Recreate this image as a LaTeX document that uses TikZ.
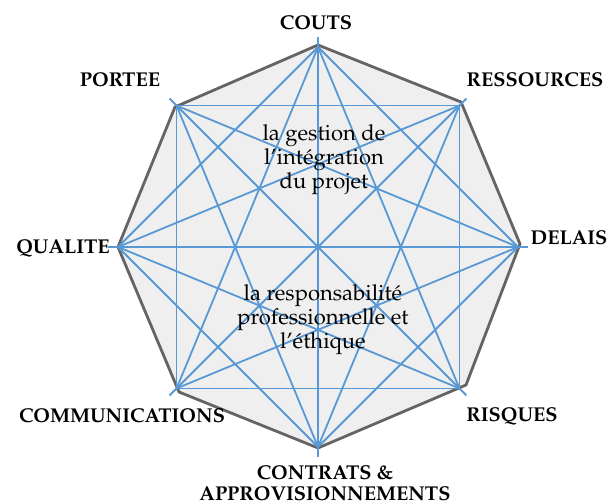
\documentclass[tikz,border=0pt]{standalone}
\usepackage[T1]{fontenc}
\usepackage{mathpazo}
\definecolor{chordblue}{RGB}{88,152,212}
\definecolor{rimgray}{RGB}{100,100,100}
\definecolor{facegray}{RGB}{239,239,239}
\tikzset{
  chord/.style={draw=chordblue, line width=1.8pt},
  rim/.style={draw=rimgray, fill=facegray, line width=2.8pt, line join=round},
  knowarea/.style={font=\bfseries\fontsize{20}{21}\selectfont, align=center, inner sep=0pt},
  theme/.style={font=\fontsize{22}{24}\selectfont, align=center, text=black, inner sep=0pt}
}
\begin{document}
\begin{tikzpicture}[x=1pt, y=1pt]
  \useasboundingbox (-318,-255) rectangle (290,247);

  %% grey octagon behind the chords
  \draw[rim] (0,202) -- (143,145) -- (202,3) -- (148,-138) -- (0,-201)
    -- (-139,-145) -- (-200,0) -- (-143,140) -- cycle;

  %% corners, clockwise from the top
  \foreach \i in {0,...,7}{
    \coordinate (v\i) at ({90-45*\i}:200);
    \coordinate (t\i) at ({90-45*\i}:210);
  }

  %% every corner to every non-neighbour
  \foreach \i/\js in {0/{2,3,4,5,6}, 1/{3,4,5,6,7}, 2/{4,5,6,7},
                      3/{5,6,7}, 4/{6,7}, 5/{7}}
    \foreach \j in \js
      \draw[chord] (v\i) -- (v\j);
  \foreach \i in {0,...,7}
    \draw[chord] (v\i) -- (t\i); %% small outward ticks

  %% knowledge areas
  \node[knowarea] (couts) at (-2,224) {COUTS};
  \node[knowarea] (ressources) at (217,167) {RESSOURCES};
  \node[knowarea] (delais) at (251,9) {DELAIS};
  \node[knowarea] (risques) at (194,-169) {RISQUES};
  \node[knowarea] (contrats) at (7,-236) {CONTRATS \&\\APPROVISIONNEMENTS};
  \node[knowarea] (communications) at (-196,-169) {COMMUNICATIONS};
  \node[knowarea] (qualite) at (-255,-1) {QUALITE};
  \node[knowarea] (portee) at (-198,167) {PORTEE};

  %% the two themes inside
  \node[theme] (integration) at (6,87) {la gestion de\\l'int\'egration\\du projet};
  \node[theme] (ethique) at (5,-73) {la responsabilit\'e\\professionnelle et\\l'\'ethique};
\end{tikzpicture}
\end{document}
